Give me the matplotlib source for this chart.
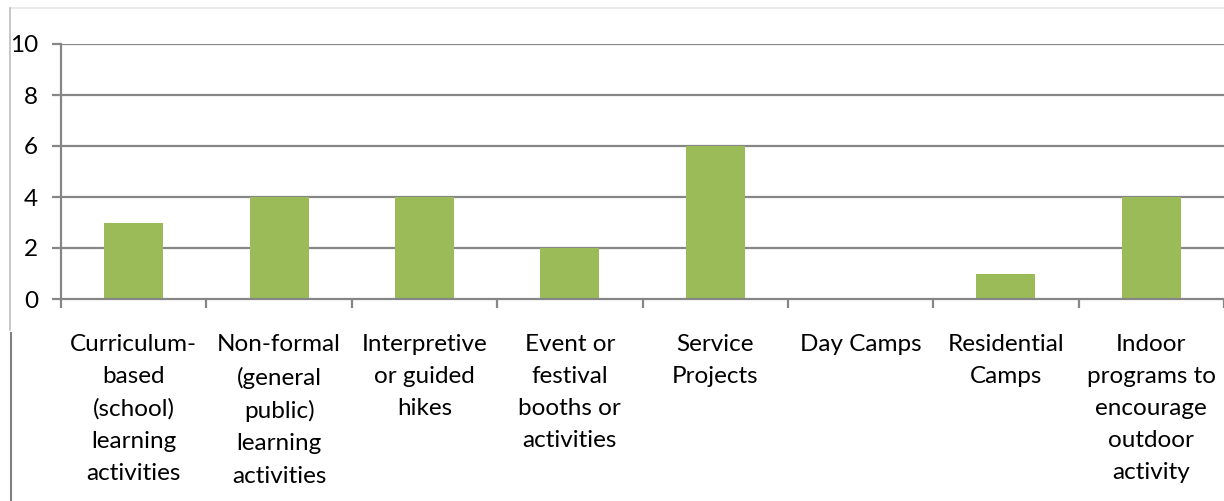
import matplotlib.pyplot as plt
from matplotlib.lines import Line2D

categories = [
    "Curriculum-\nbased\n(school)\nlearning\nactivities",
    "Non-formal\n(general\npublic)\nlearning\nactivities",
    "Interpretive\nor guided\nhikes",
    "Event or\nfestival\nbooths or\nactivities",
    "Service\nProjects",
    "Day Camps",
    "Residential\nCamps",
    "Indoor\nprograms to\nencourage\noutdoor\nactivity",
]
values = [3, 4, 4, 2, 6, 0, 1, 4]
yticks = [0, 2, 4, 6, 8, 10]

plt.rcParams['font.family'] = ['Lato', 'DejaVu Sans']

fig = plt.figure(figsize=(12.24, 5.01), dpi=100)
ax = fig.add_axes([61 / 1224, 202 / 501, 1 - 61 / 1224, 255 / 501])

grid_col = '#868686'
x = range(len(values))
ax.bar(x, values, width=0.405, color='#9BBB59', zorder=3)

ax.set_xlim(-0.5, len(values) - 0.5)
ax.set_ylim(0, 10)
ax.set_yticks(yticks)
ax.set_yticklabels([str(t) for t in yticks], fontsize=17.5)
for t in yticks[1:]:
    ax.axhline(t, color=grid_col, lw=1.6, zorder=1)

ax.set_xticks(list(x))
ax.set_xticklabels(categories, fontsize=17.5, linespacing=1.65, va='top')
ax.tick_params(axis='x', length=0, pad=25)
ax.tick_params(axis='y', length=6.5, width=1.6, color=grid_col, pad=10)

# category boundary ticks
ax.set_xticks([i - 0.5 for i in range(len(values) + 1)], minor=True)
ax.tick_params(axis='x', which='minor', length=6.5, width=1.6, color=grid_col)

for s in ['top', 'right']:
    ax.spines[s].set_visible(False)
for s in ['left', 'bottom']:
    ax.spines[s].set_color(grid_col)
    ax.spines[s].set_linewidth(1.6)
    ax.spines[s].set_zorder(4)

# chart frame remnants
fig.add_artist(Line2D([10 / 1224, 1], [1 - 8 / 501] * 2, color='#e6e6e6', lw=1.2))
fig.add_artist(Line2D([10 / 1224] * 2, [1 - 8 / 501, 1 - 330 / 501], color='#bfbfbf', lw=1.2))
fig.add_artist(Line2D([11 / 1224] * 2, [1 - 333 / 501, 0], color='#808080', lw=1.5))

fig.savefig('out.png', dpi=100)
